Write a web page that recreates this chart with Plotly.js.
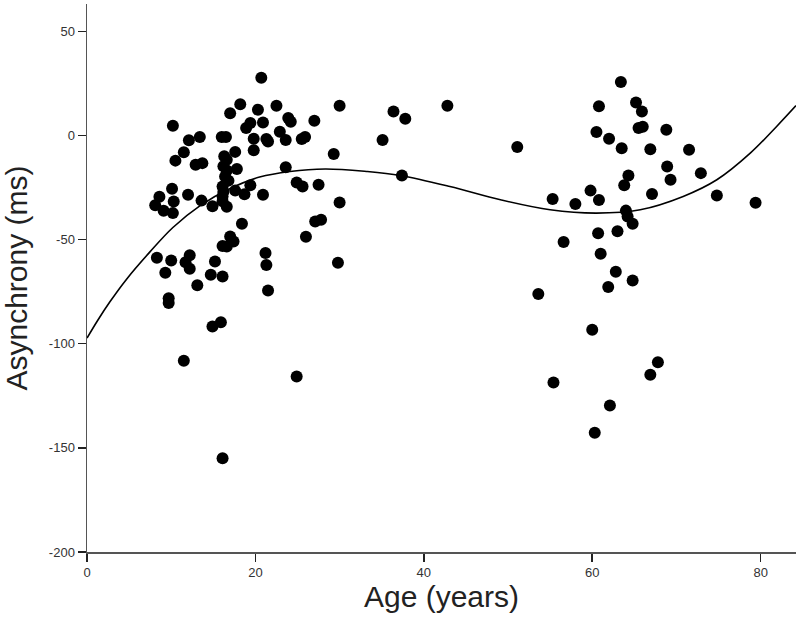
<!DOCTYPE html>
<html>
<head>
<meta charset="utf-8">
<script src="https://cdn.plot.ly/plotly-3.0.1.min.js"></script>
<style>html,body{margin:0;padding:0;background:#fff;}#chart{width:800px;height:619px;}</style>
</head>
<body>
<div id="chart"></div>
<script>
// Observed data: age (years) and asynchrony (ms)
var ageYoung = [20.7, 18.2, 17.0, 20.3, 22.5, 30.0, 36.4, 37.8, 42.8, 10.2, 18.9, 19.4, 20.9, 23.9, 24.2, 27.0, 22.9,
  12.1, 13.4, 16.0, 16.5, 19.8, 21.3, 21.5, 23.6, 25.5, 25.9, 35.1, 11.5, 10.5, 12.9, 13.7, 16.3, 16.6, 17.6, 19.8,
  29.3, 23.6, 16.2, 16.6, 17.8, 16.4, 16.8, 16.1, 19.4, 24.9, 25.6, 27.5, 10.1, 12.0, 8.6, 8.1, 9.1, 10.2, 10.3,
  13.6, 14.9, 16.1, 16.6, 16.1, 16.2, 17.6, 18.7, 20.9, 30.0, 18.4, 27.1, 27.8, 26.0, 17.0, 17.4, 16.1, 16.6,
  21.2, 21.3, 29.8, 8.3, 10.0, 9.3, 12.2, 11.7, 12.2, 15.2, 14.7, 16.1, 13.1, 21.5, 9.7, 9.7, 14.9, 15.9, 11.5,
  24.9, 16.1, 37.4, 51.1];
var asyncYoung = [27.7, 15.0, 10.7, 12.3, 14.3, 14.3, 11.5, 8.0, 14.3, 4.7, 3.6, 6.0, 6.2, 8.4, 6.6, 7.0, 1.8,
  -2.3, -0.8, -0.8, -0.8, -1.6, -1.7, -2.9, -2.2, -1.7, -0.8, -2.2, -8.1, -12.1, -14.1, -13.3, -10.0, -11.7, -7.9, -7.1,
  -8.9, -15.3, -14.8, -16.8, -16.1, -19.7, -21.7, -24.5, -23.9, -22.6, -24.5, -23.7, -25.6, -28.5, -29.4, -33.5, -36.2, -37.3, -31.7,
  -31.3, -34.0, -29.3, -34.2, -31.6, -27.0, -26.5, -28.2, -28.5, -32.2, -42.4, -41.3, -40.5, -48.6, -48.5, -50.9, -53.1, -53.3,
  -56.5, -62.2, -61.1, -58.7, -60.0, -65.9, -57.5, -60.9, -64.0, -60.5, -66.9, -67.7, -71.9, -74.4, -78.2, -80.5, -91.7, -89.7, -108.2,
  -115.7, -155.0, -19.2, -5.6];
var ageOld = [63.4, 60.8, 65.2, 65.9, 65.5, 66.0, 60.5, 62.0, 63.5, 66.9, 68.8, 71.5, 68.9, 69.3, 72.9, 64.3, 63.8,
  67.1, 74.8, 79.4, 59.8, 60.8, 55.3, 58.0, 64.0, 64.2, 64.8, 60.7, 63.0, 56.6, 61.0, 62.8, 64.8, 61.9, 53.6, 60.0,
  67.8, 66.9, 55.4, 62.1, 60.3];
var asyncOld = [25.7, 14.0, 15.8, 11.5, 3.6, 4.2, 1.6, -1.6, -6.2, -6.6, 2.7, -6.9, -14.9, -21.3, -18.1, -19.2, -23.9,
  -28.1, -28.8, -32.3, -26.5, -31.0, -30.5, -32.9, -36.1, -38.9, -42.4, -47.0, -46.0, -51.2, -56.8, -65.4, -69.7, -72.8, -76.1, -93.3,
  -108.9, -114.9, -118.6, -129.7, -142.7];

// Fitted curve
var fitAge = [0, 1.3, 2.7, 4.7, 7.5, 10.2, 13.4, 17.0, 20.5, 24.1, 28.3, 33.2, 37.2, 43.1, 49.1, 55.0, 60.5, 65.7, 70.8, 74.8, 78.8, 81.9, 84.2];
var fitAsync = [-97.3, -88.6, -80.0, -69.0, -55.8, -44.2, -33.8, -25.5, -20.0, -17.3, -16.1, -17.3, -19.2, -24.5, -30.9, -35.7, -37.3, -35.7, -29.3, -21.3, -8.4, 4.3, 14.3];

var xTicks = [0, 20, 40, 60, 80];
var yTicks = [-200, -150, -100, -50, 0, 50];

var ages = ageYoung.concat(ageOld);
var asyncs = asyncYoung.concat(asyncOld);

var traces = [
  {x: fitAge, y: fitAsync, type: 'scatter', mode: 'lines', line: {color: '#000', width: 1.6, shape: 'spline', smoothing: 1}, hoverinfo: 'skip'},
  {x: ages, y: asyncs, type: 'scatter', mode: 'markers', marker: {color: '#000', size: 12}}
];

var axisFont = {family: 'Liberation Sans, Arial, sans-serif', size: 13, color: '#333'};
var titleFont = {family: 'Liberation Sans, Arial, sans-serif', size: 30, color: '#222'};
var layout = {
  width: 800, height: 619,
  margin: {l: 87, r: 4, t: 4, b: 67},
  paper_bgcolor: '#fff', plot_bgcolor: '#fff',
  showlegend: false,
  xaxis: {
    range: [0, 84.2], tickvals: xTicks, ticktext: xTicks.map(String),
    showgrid: false, zeroline: false, showline: true, linecolor: '#555', linewidth: 1.5,
    ticks: 'outside', ticklen: 8, tickwidth: 1.5, tickcolor: '#222',
    tickfont: axisFont,
    title: {text: 'Age (years)', font: titleFont, standoff: 6}
  },
  yaxis: {
    range: [-200, 63.1], tickvals: yTicks, ticktext: yTicks.map(String),
    showgrid: false, zeroline: false, showline: true, linecolor: '#555', linewidth: 1.5,
    ticks: 'outside', ticklen: 8, tickwidth: 1.5, tickcolor: '#222',
    tickfont: axisFont,
    title: {text: 'Asynchrony (ms)', font: titleFont, standoff: 12}
  }
};

Plotly.newPlot('chart', traces, layout, {displayModeBar: false, staticPlot: true});
</script>
</body>
</html>
